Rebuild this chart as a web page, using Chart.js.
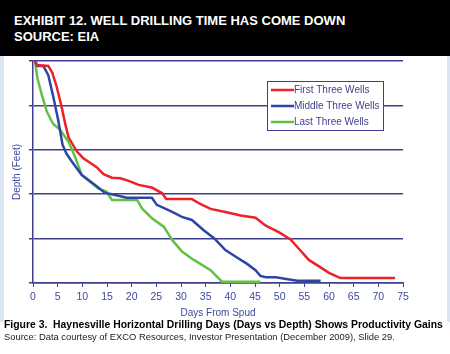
<!DOCTYPE html>
<html>
<head>
<meta charset="utf-8">
<script src="https://cdn.jsdelivr.net/npm/chart.js@4"></script>
<style>
  body { margin: 0; background: #fff; font-family: "Liberation Sans", Arial, sans-serif; }
  #page { width: 450px; height: 354px; position: relative; overflow: hidden; }
  #header { position: absolute; left: 0; top: 0; width: 450px; height: 56px; background: #000; color: #fff; }
  #header div { position: absolute; left: 14px; font-weight: bold; font-size: 13px; }
  #panel { position: absolute; left: 0; top: 56px; width: 450px; height: 266px; background: #fff;
           box-sizing: border-box; border-left: 4px solid #dbe6f5; border-right: 3px solid #dbe6f5; }
  #panel canvas { position: absolute; left: -4px; top: 0; }
  #cap1 { position: absolute; left: 4px; top: 319px; font-weight: bold; font-size: 10.4px; color: #000; white-space: nowrap; }
  #cap2 { position: absolute; left: 4px; top: 331px; font-size: 9.4px; color: #222; white-space: nowrap; }
</style>
</head>
<body>
<div id="page">
  <div id="header">
    <div style="top:13px">EXHIBIT 12. WELL DRILLING TIME HAS COME DOWN</div>
    <div style="top:29px">SOURCE: EIA</div>
  </div>
  <div id="panel"><canvas id="wellChart" width="450" height="266"></canvas></div>
  <div id="cap1">Figure 3.&nbsp; Haynesville Horizontal Drilling Days (Days vs Depth) Shows Productivity Gains</div>
  <div id="cap2">Source: Data courtesy of EXCO Resources, Investor Presentation (December 2009), Slide 29.</div>
</div>
<script>
const seriesNames = ["First Three Wells", "Middle Three Wells", "Last Three Wells"];

const firstDays  = [0.4, 0.8, 3.1, 3.9, 4.8, 5.8, 6.5, 7.2, 8.9, 10.2, 12.9, 14.3, 16.0, 17.7, 19.4, 21.4, 24.1, 26.2, 27.0, 32.2, 33.9, 36.0, 39.0, 42.1, 45.1, 47.2, 49.9, 52.2, 54.3, 55.9, 57.9, 60.0, 62.3, 73.4];
const firstDepth = [0, 0.09, 0.11, 0.26, 0.58, 1.03, 1.40, 1.72, 2.04, 2.19, 2.39, 2.55, 2.63, 2.64, 2.70, 2.79, 2.85, 2.98, 3.11, 3.11, 3.22, 3.33, 3.40, 3.48, 3.53, 3.71, 3.86, 4.02, 4.28, 4.48, 4.62, 4.77, 4.89, 4.89];

const middleDays  = [0.4, 0.9, 2.1, 3.1, 4.1, 5.1, 6.0, 6.8, 7.9, 9.9, 12.9, 14.6, 16.0, 19.0, 24.1, 25.1, 27.9, 30.2, 32.2, 34.6, 36.7, 39.0, 41.1, 43.4, 45.1, 46.1, 47.2, 49.2, 52.6, 53.6, 58.3];
const middleDepth = [0, 0.11, 0.11, 0.32, 0.80, 1.33, 1.89, 2.09, 2.27, 2.57, 2.82, 2.97, 3.00, 3.08, 3.08, 3.24, 3.38, 3.51, 3.58, 3.81, 3.99, 4.26, 4.41, 4.57, 4.71, 4.84, 4.87, 4.87, 4.93, 4.95, 4.95];

const lastDays  = [0.4, 0.9, 1.8, 2.8, 4.1, 5.5, 7.2, 8.5, 9.9, 11.6, 13.2, 14.9, 16.0, 21.1, 22.1, 24.1, 26.5, 28.2, 30.2, 32.6, 36.0, 38.3, 46.1];
const lastDepth = [0, 0.39, 0.77, 1.14, 1.42, 1.55, 1.82, 2.15, 2.57, 2.72, 2.87, 2.94, 3.13, 3.13, 3.32, 3.54, 3.73, 4.03, 4.29, 4.48, 4.71, 4.97, 4.97];

const xTickMin = 0, xTickMax = 75, xTickStep = 5;

const navy = "#3f3f8f";
const tickBlue = "#4048a0";

function toPoints(xs, ys) {
  return xs.map((x, i) => ({ x: x, y: ys[i] }));
}

// legend box inside the plot, drawn by hand
const boxLegend = {
  id: "boxLegend",
  afterDraw(chart) {
    const ctx = chart.ctx;
    const a = chart.chartArea;
    const x0 = a.left + 234, y0 = a.top + 20;
    const w = 116, h = 49;
    ctx.save();
    ctx.fillStyle = "#fff";
    ctx.fillRect(x0, y0, w, h);
    ctx.strokeStyle = navy;
    ctx.lineWidth = 1;
    ctx.strokeRect(x0 + 0.5, y0 + 0.5, w, h);
    ctx.font = "10px 'Liberation Sans', Arial, sans-serif";
    ctx.textBaseline = "middle";
    chart.data.datasets.forEach((ds, i) => {
      const yy = y0 + 9 + i * 16;
      ctx.strokeStyle = ds.borderColor;
      ctx.lineWidth = 2.5;
      ctx.beginPath();
      ctx.moveTo(x0 + 4, yy);
      ctx.lineTo(x0 + 27, yy);
      ctx.stroke();
      ctx.fillStyle = navy;
      ctx.fillText(ds.label, x0 + 27, yy);
    });
    ctx.restore();
  }
};

new Chart(document.getElementById("wellChart"), {
  type: "line",
  data: {
    datasets: [
      { label: seriesNames[0], data: toPoints(firstDays, firstDepth), borderColor: "#ec2227" },
      { label: seriesNames[1], data: toPoints(middleDays, middleDepth), borderColor: "#2d46a6" },
      { label: seriesNames[2], data: toPoints(lastDays, lastDepth), borderColor: "#62c044" }
    ]
  },
  options: {
    responsive: false,
    animation: false,
    layout: { padding: { left: 0, right: 47, top: 5, bottom: 0 } },
    elements: {
      point: { radius: 0 },
      line: { borderWidth: 2.5, tension: 0 }
    },
    plugins: {
      legend: { display: false },
      tooltip: { enabled: false }
    },
    scales: {
      x: {
        type: "linear",
        min: xTickMin,
        max: xTickMax,
        ticks: { stepSize: xTickStep, color: tickBlue, padding: 4, font: { size: 10.5, family: "'Liberation Sans', Arial" } },
        grid: { drawOnChartArea: false, drawTicks: true, tickLength: 4, color: navy },
        border: { color: navy, width: 1.5 },
        title: { display: true, text: "Days From Spud", color: tickBlue, padding: { top: 0, bottom: 3 }, font: { size: 10, family: "'Liberation Sans', Arial" } },
        afterFit(s) { s.height = 39; }
      },
      y: {
        type: "linear",
        min: 0,
        max: 5,
        reverse: true,
        ticks: { stepSize: 1, display: false },
        grid: { color: navy, lineWidth: 1.5, tickLength: 4 },
        border: { color: navy, width: 1.5 },
        title: { display: true, text: "Depth (Feet)", color: tickBlue, padding: { top: 11, bottom: 0 }, font: { size: 10, family: "'Liberation Sans', Arial" } },
        afterFit(s) { s.width = 33; }
      }
    }
  },
  plugins: [boxLegend]
});
</script>
</body>
</html>
